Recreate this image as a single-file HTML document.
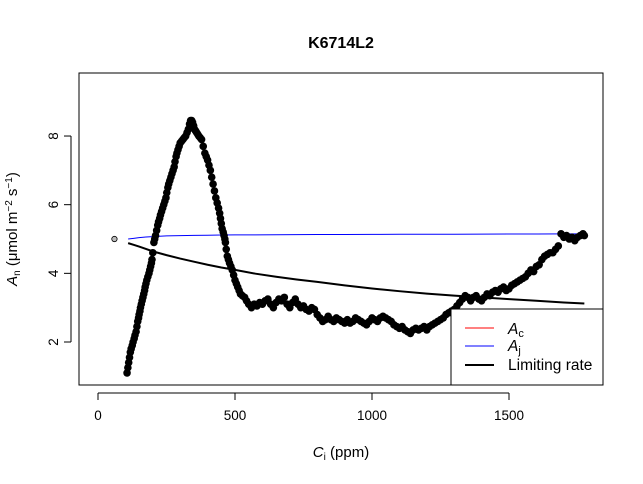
<!DOCTYPE html>
<html><head><meta charset="utf-8"><style>
body{margin:0;background:#fff}
svg{display:block;font-family:"Liberation Sans",Arial,sans-serif}
</style></head><body>
<svg id="c" width="643" height="484" viewBox="0 0 643 484">
<rect width="643" height="484" fill="#fff"/>
<text x="341" y="48" text-anchor="middle" font-size="16" font-weight="bold">K6714L2</text>
<rect x="79" y="73" width="524" height="312" fill="none" stroke="#000" stroke-width="1"/>
<g id="xaxis"></g>
<g id="yaxis"></g>
<text x="341" y="457" text-anchor="middle" font-size="15"><tspan font-style="italic">C</tspan><tspan font-size="10" dy="3">i</tspan><tspan dy="-3">  (ppm)</tspan></text>
<text transform="translate(17,229) rotate(-90)" text-anchor="middle" font-size="15"><tspan font-style="italic">A</tspan><tspan font-size="10" dy="3">n</tspan><tspan dy="-3">  (μmol m</tspan><tspan font-size="10" dy="-5">−2</tspan><tspan dy="5"> s</tspan><tspan font-size="10" dy="-5">−1</tspan><tspan dy="5">)</tspan></text>
<g id="marks"></g>
<g>
<rect x="451" y="309" width="152" height="76" fill="#fff" stroke="#000" stroke-width="1"/>
<line x1="465" y1="328" x2="494" y2="328" stroke="#f00" stroke-width="1"/>
<text x="508" y="334" font-size="15.5"><tspan font-style="italic">A</tspan><tspan font-size="11" dy="3">c</tspan></text>
<line x1="465" y1="346" x2="494" y2="346" stroke="#00f" stroke-width="1"/>
<text x="508" y="351" font-size="15.5"><tspan font-style="italic">A</tspan><tspan font-size="11" dy="3">j</tspan></text>
<line x1="465" y1="365" x2="494" y2="365" stroke="#000" stroke-width="2"/>
<text x="508" y="370" font-size="15.5">Limiting rate</text>
</g>
</svg>
<script>
const ciObs=[106,109,112,115,118,121,125,128,132,135,139,142,145,148,150,153,155,158,161,164,167,170,172,175,178,182,186,189,192,195,197,200,204,207,210,214,218,221,225,228,232,236,240,244,248,251,255,258,262,266,270,274,278,281,285,288,292,296,300,305,310,315,320,325,330,334,338,342,345,349,352,356,360,364,368,373,378,384,390,395,400,405,410,415,420,425,430,435,440,444,447,450,453,457,460,463,465,468,472,476,480,485,490,495,500,505,510,515,520,527,535,542,550,560,570,580,590,600,610,620,630,640,650,660,670,680,690,700,710,720,730,740,750,760,770,780,790,800,810,820,830,840,850,860,870,880,890,900,910,920,930,940,950,960,970,980,990,1000,1010,1020,1030,1040,1050,1060,1070,1080,1090,1100,1110,1120,1130,1140,1150,1160,1170,1180,1190,1200,1210,1220,1230,1240,1250,1260,1270,1280,1290,1300,1310,1320,1330,1340,1350,1360,1370,1380,1390,1400,1410,1420,1430,1440,1450,1460,1470,1480,1490,1500,1510,1520,1530,1540,1550,1560,1570,1580,1590,1600,1610,1620,1630,1640,1650,1660,1670,1680,1690,1700,1710,1720,1730,1740,1750,1760,1770,1775];
const anObs=[1.1,1.25,1.4,1.55,1.7,1.8,1.9,2.0,2.1,2.2,2.3,2.45,2.6,2.7,2.8,2.9,3.0,3.1,3.2,3.3,3.4,3.5,3.6,3.7,3.8,3.9,4.0,4.1,4.2,4.3,4.4,4.6,4.9,5.0,5.1,5.25,5.4,5.5,5.6,5.7,5.8,5.9,6.0,6.1,6.2,6.35,6.5,6.6,6.7,6.8,6.9,7.0,7.1,7.25,7.4,7.5,7.6,7.7,7.8,7.85,7.9,7.95,8.0,8.1,8.2,8.35,8.45,8.45,8.4,8.3,8.2,8.15,8.1,8.05,8.0,7.95,7.9,7.7,7.5,7.4,7.3,7.15,7.0,6.8,6.6,6.4,6.2,6.05,5.9,5.75,5.6,5.45,5.3,5.2,5.1,5.0,4.9,4.7,4.5,4.4,4.3,4.2,4.1,3.95,3.8,3.7,3.6,3.5,3.4,3.35,3.3,3.2,3.1,3.0,3.1,3.05,3.15,3.1,3.2,3.25,3.1,3.0,3.15,3.25,3.2,3.3,3.1,3.0,3.15,3.25,3.1,3.0,3.05,2.95,2.9,3.0,2.95,2.8,2.7,2.6,2.65,2.75,2.65,2.6,2.7,2.65,2.6,2.55,2.65,2.55,2.6,2.7,2.65,2.6,2.55,2.5,2.6,2.7,2.65,2.6,2.7,2.75,2.7,2.65,2.6,2.5,2.45,2.4,2.45,2.35,2.3,2.25,2.35,2.4,2.35,2.4,2.45,2.35,2.45,2.5,2.55,2.6,2.65,2.7,2.8,2.85,2.9,2.95,3.05,3.15,3.25,3.35,3.3,3.2,3.3,3.35,3.25,3.2,3.3,3.4,3.35,3.45,3.5,3.45,3.55,3.6,3.5,3.55,3.65,3.7,3.75,3.8,3.85,3.9,4.0,4.1,4.05,4.2,4.25,4.4,4.5,4.55,4.6,4.6,4.7,4.8,5.15,5.05,5.1,5.0,5.05,4.95,5.05,5.1,5.15,5.1];
const ciExcl=[60];
const anExcl=[5.0];
const ciLine=[110,130,150,175,200,250,300,350,400,450,500,575,650,725,800,900,1000,1100,1200,1300,1400,1500,1600,1700,1775];
const ajVals=[5.0,5.02,5.04,5.06,5.07,5.09,5.1,5.105,5.11,5.115,5.12,5.122,5.125,5.128,5.13,5.132,5.135,5.137,5.14,5.14,5.143,5.145,5.147,5.15,5.15];
const limVals=[4.88,4.83,4.78,4.71,4.64,4.53,4.43,4.34,4.25,4.17,4.1,3.99,3.9,3.82,3.75,3.65,3.56,3.48,3.41,3.35,3.3,3.25,3.2,3.15,3.12];
const xTicks=[0,500,1000,1500];
const yTicks=[2,4,6,8];
const NS="http://www.w3.org/2000/svg";
const xs=v=>98+v*0.274;
const ys=v=>342-(v-2)*34.33;
function mk(tag,attrs,parent){const e=document.createElementNS(NS,tag);for(const k in attrs)e.setAttribute(k,attrs[k]);parent.appendChild(e);return e;}
const xa=document.getElementById('xaxis'),ya=document.getElementById('yaxis'),m=document.getElementById('marks');
let l=mk('line',{x1:xs(xTicks[0]),x2:xs(xTicks[xTicks.length-1]),y1:393,y2:393,stroke:'#000'},xa);


xTicks.forEach(t=>{
 const tk=mk('line',{x1:xs(t),x2:xs(t),y1:393,y2:400,stroke:'#000'},xa);
 
 
 const tx=mk('text',{x:xs(t),y:420,'text-anchor':'middle','font-size':13.5},xa);
 tx.textContent=t;
 
 
});
l=mk('line',{x1:71,x2:71,y1:ys(yTicks[0]),y2:ys(yTicks[yTicks.length-1]),stroke:'#000'},ya);


yTicks.forEach(t=>{
 const tk=mk('line',{x1:64,x2:71,y1:ys(t),y2:ys(t),stroke:'#000'},ya);
 
 
 const tx=mk('text',{transform:`translate(58,${ys(t)}) rotate(-90)`,'text-anchor':'middle','font-size':13.5},ya);
 tx.textContent=t;
 
 
});
const pj=mk('polyline',{points:ciLine.map((c,i)=>xs(c)+','+ys(ajVals[i])).join(' '),fill:'none',stroke:'#00f','stroke-width':1},m);


const pl=mk('polyline',{points:ciLine.map((c,i)=>xs(c)+','+ys(limVals[i])).join(' '),fill:'none',stroke:'#000','stroke-width':2},m);


ciObs.forEach((c,i)=>{
 const p=mk('circle',{cx:xs(c),cy:ys(anObs[i]),r:3.8,fill:'#000'},m);
 
 
});
ciExcl.forEach((c,i)=>{
 const p=mk('circle',{cx:xs(c),cy:ys(anExcl[i]),r:2.7,fill:'#bbb',stroke:'#000','stroke-width':0.8},m);
 
 
});
</script>
</body></html>
